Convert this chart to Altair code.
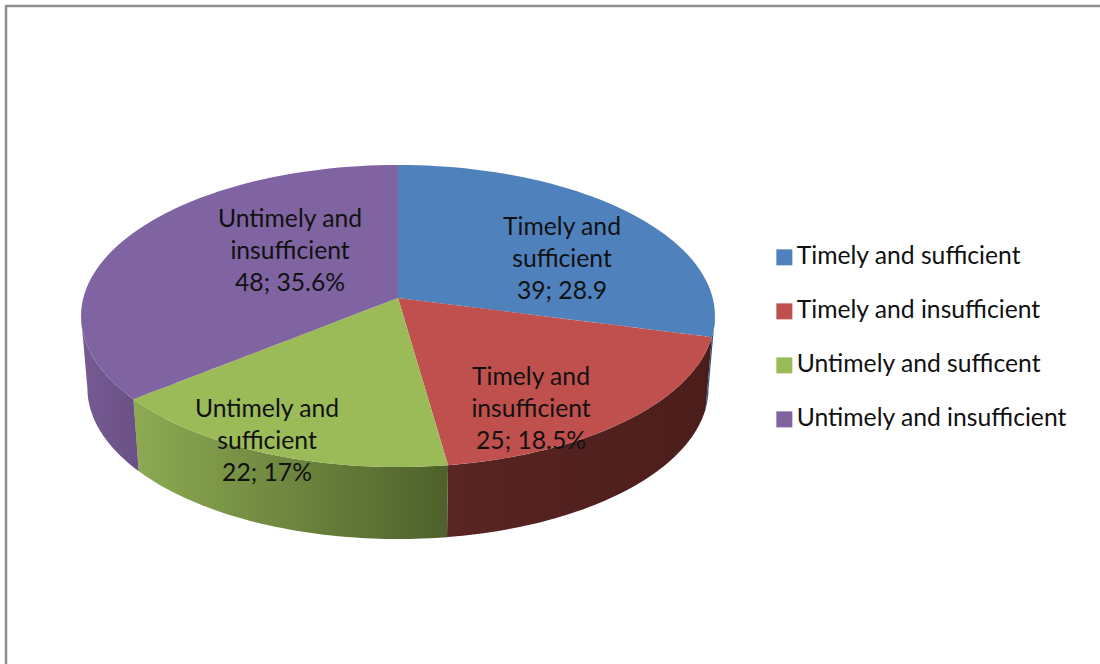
import math
import altair as alt
import pandas as pd

# Survey responses
categories = ["Timely and sufficient", "Timely and insufficient",
              "Untimely and sufficent", "Untimely and insufficient"]
counts = [39, 25, 22, 48]
slice_labels = [
    ["Timely and", "sufficient", "39; 28.9"],
    ["Timely and", "insufficient", "25; 18.5%"],
    ["Untimely and", "sufficient", "22; 17%"],
    ["Untimely and", "insufficient", "48; 35.6%"],
]
top_colors = ["#4f81bd", "#c0504d", "#9bbb59", "#8064a2"]
wall_stops = [
    ["#3a5f8c", "#2c4a70"],
    ["#5a2523", "#4a1d1b"],
    ["#8dab52", "#4e602b"],
    ["#755b92", "#6a5085"],
]

# Centre of each three-line label, in chart units
label_x = [562, 531, 267, 290]
label_y = [260, 410, 442, 252]
LINE_GAP = 32

# Tilted-disc projection
CX, CY = 398, 298
RX, RY = 314.7, 148.9
PERSPECTIVE = 0.1192
DEPTH = 72
BASE_SHRINK = 0.98
FONT = "Lato"
FONT_SIZE = 24.7


def rim(theta, lower=False):
    """Project a clockwise-from-north angle onto the top or bottom face."""
    u, v = math.sin(theta), math.cos(theta)
    w = 1 + PERSPECTIVE * v
    if lower:
        return CX + BASE_SHRINK * RX * u / w, CY + DEPTH - RY * v / w
    return CX + RX * u / w, CY - RY * v / w


def arc(a, b, lower=False):
    n = max(2, int(abs(b - a) / math.radians(2)))
    return [rim(a + (b - a) * i / n, lower) for i in range(n + 1)]


def polygon_to_band(poly, name):
    """Turn an x-monotone outline into x / y / y2 rows for an area mark."""
    rows = []
    edges = list(zip(poly, poly[1:] + poly[:1]))
    for x in sorted({p[0] for p in poly}):
        ys = []
        for (x0, y0), (x1, y1) in edges:
            if min(x0, x1) <= x <= max(x0, x1):
                if x0 == x1:
                    ys += [y0, y1]
                else:
                    ys.append(y0 + (y1 - y0) * (x - x0) / (x1 - x0))
        rows.append({"x": x, "y": min(ys), "y2": max(ys), "cat": name})
    return rows


total = sum(counts)
edges_deg = [0]
for c in counts:
    edges_deg.append(edges_deg[-1] + c / total * 2 * math.pi)

# Leftmost and rightmost rim angles bound the visible outer wall
right_limit = math.pi / 2 + math.asin(PERSPECTIVE)
left_limit = 2 * math.pi - right_limit

top_rows, wall_frames = [], []
for i, name in enumerate(categories):
    a, b = edges_deg[i], edges_deg[i + 1]
    top_rows += polygon_to_band([(CX, CY)] + arc(a, b), name)
    lo, hi = max(a, right_limit), min(b, left_limit)
    if lo < hi:
        outline = arc(lo, hi) + arc(hi, lo, lower=True)
        wall_frames.append((i, pd.DataFrame(polygon_to_band(outline, name))))

x_scale = alt.Scale(domain=[0, 1100], nice=False, zero=False)
y_scale = alt.Scale(domain=[664, 0], nice=False, zero=False)
X = alt.X("x:Q", scale=x_scale, axis=None)
Y = alt.Y("y:Q", scale=y_scale, axis=None, stack=None)

layers = []

# Frame along the top and left edges
frame_color = "#8e8e8e"
layers.append(
    alt.Chart(pd.DataFrame({"x": [6], "x2": [1100], "y": [6]}))
    .mark_rule(color=frame_color, strokeWidth=2.5)
    .encode(x=X, x2="x2:Q", y=Y)
)
layers.append(
    alt.Chart(pd.DataFrame({"x": [6], "y": [5], "y2": [664]}))
    .mark_rule(color=frame_color, strokeWidth=2.5)
    .encode(x=X, y=Y, y2="y2:Q")
)

# Outer wall of the disc
for i, frame in wall_frames:
    fill = alt.Gradient(
        gradient="linear", x1=0, x2=1, y1=0, y2=0,
        stops=[alt.GradientStop(offset=0, color=wall_stops[i][0]),
               alt.GradientStop(offset=1, color=wall_stops[i][1])],
    )
    layers.append(
        alt.Chart(frame).mark_area(color=fill, interpolate="linear")
        .encode(x=X, y=Y, y2="y2:Q")
    )

# Top face, which also carries the legend
layers.append(
    alt.Chart(pd.DataFrame(top_rows))
    .mark_area(interpolate="linear")
    .encode(
        x=X, y=Y, y2="y2:Q",
        color=alt.Color(
            "cat:N",
            scale=alt.Scale(domain=categories, range=top_colors),
            sort=categories,
            legend=alt.Legend(
                title=None, orient="none", legendX=772, legendY=245,
                symbolType="square", symbolSize=256, symbolStrokeWidth=0,
                labelFont=FONT, labelFontSize=FONT_SIZE, labelColor="#111111",
                labelOffset=0, labelLimit=320, rowPadding=28,
            ),
        ),
    )
)

# Slice labels
text_rows = []
for lines, x, y in zip(slice_labels, label_x, label_y):
    for j, line in enumerate(lines):
        text_rows.append({"x": x, "y": y + (j - 1) * LINE_GAP, "t": line})
layers.append(
    alt.Chart(pd.DataFrame(text_rows))
    .mark_text(font=FONT, fontSize=FONT_SIZE, color="#111111", align="center", baseline="middle")
    .encode(x=X, y=Y, text="t:N")
)

chart = (
    alt.layer(*layers)
    .properties(width=1100, height=664, padding=0, background="white",
                autosize=alt.AutoSizeParams(type="none"))
    .configure_view(stroke=None)
)
chart.save("out.html", embed_options={"renderer": "svg", "actions": False})
